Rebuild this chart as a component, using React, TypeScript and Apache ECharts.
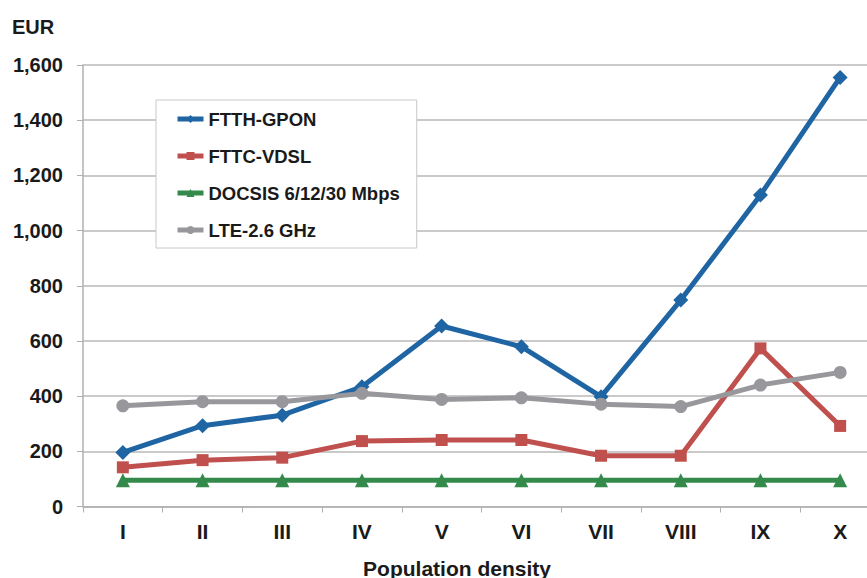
import React, { useEffect, useRef } from "react";
import * as echarts from "echarts";

const categories = ["I", "II", "III", "IV", "V", "VI", "VII", "VIII", "IX", "X"];
const ftthGpon = [196, 293, 331, 434, 654, 579, 398, 748, 1129, 1555];
const fttcVdsl = [142, 168, 177, 237, 241, 241, 184, 184, 573, 292];
const docsis = [95, 95, 95, 95, 95, 95, 95, 95, 95, 95];
const lte = [365, 380, 380, 410, 388, 394, 371, 362, 440, 486];

const FONT = "'Liberation Sans', Arial, sans-serif";

export default function App() {
  const ref = useRef<HTMLDivElement>(null);
  useEffect(() => {
    if (!ref.current) return;
    const chart = echarts.init(ref.current, null, { renderer: "svg" });
    const mk = (name: string, data: number[], color: string, symbol: string, size: number) => ({
      name,
      type: "line",
      data,
      symbol,
      symbolSize: size,
      lineStyle: { color, width: 5 },
      itemStyle: { color },
      z: 2,
    });
    chart.setOption({
      animation: false,
      textStyle: { fontFamily: FONT },
      grid: {
        left: 83,
        width: 797,
        top: 65,
        bottom: 71.5,
        containLabel: false,
        outerBoundsMode: "none",
      },
      legend: {
        orient: "vertical",
        left: 156,
        top: 100,
        padding: [9, 17, 8, 19],
        itemGap: 17,
        itemWidth: 26,
        itemHeight: 10,
        backgroundColor: "#ffffff",
        borderColor: "#c8c8c8",
        borderWidth: 1,
        lineStyle: { width: 5 },
        textStyle: { fontFamily: FONT, fontWeight: "bold", fontSize: 18.5, color: "#1a1a1a", lineHeight: 20 },
        data: ["FTTH-GPON", "FTTC-VDSL", "DOCSIS 6/12/30 Mbps", "LTE-2.6 GHz"],
      },
      xAxis: {
        type: "category",
        data: categories,
        boundaryGap: true,
        axisLine: { lineStyle: { color: "#b0b0b0", width: 1.5 } },
        axisTick: { show: true, length: 6, interval: 0, lineStyle: { color: "#b0b0b0" } },
        axisLabel: { fontFamily: FONT, fontWeight: "bold", fontSize: 21, color: "#1a1a1a", margin: 14, interval: 0 },
      },
      yAxis: {
        type: "value",
        min: 0,
        max: 1600,
        interval: 200,
        axisLine: { show: true, lineStyle: { color: "#b0b0b0", width: 1.5 } },
        axisTick: { show: true, length: 6, lineStyle: { color: "#b0b0b0" } },
        splitLine: { lineStyle: { color: "#b8b8b8", width: 1.5 } },
        axisLabel: {
          fontFamily: FONT,
          fontWeight: "bold",
          fontSize: 20,
          color: "#1a1a1a",
          margin: 20,
          formatter: (v: number) => v.toLocaleString("en-US"),
        },
      },
      graphic: [
        {
          type: "text",
          left: 12,
          top: 17,
          style: { text: "EUR", fontFamily: FONT, fontWeight: "bold", fontSize: 20, fill: "#1a1a1a" },
        },
        {
          type: "text",
          x: 457,
          y: 568,
          style: {
            text: "Population density",
            fontFamily: FONT,
            fontWeight: "bold",
            fontSize: 21,
            fill: "#1a1a1a",
            textAlign: "center",
            textVerticalAlign: "middle",
          },
        },
      ],
      series: [
        mk("FTTH-GPON", ftthGpon, "#1f65a3", "diamond", 15),
        mk("FTTC-VDSL", fttcVdsl, "#c0504d", "rect", 12),
        mk("DOCSIS 6/12/30 Mbps", docsis, "#338a4b", "triangle", 14),
        mk("LTE-2.6 GHz", lte, "#98989c", "circle", 13),
      ],
    });
    return () => chart.dispose();
  }, []);
  return (
    <div
      ref={ref}
      style={{ position: "fixed", left: 0, top: 0, width: 867, height: 578, background: "#fff" }}
    />
  );
}
